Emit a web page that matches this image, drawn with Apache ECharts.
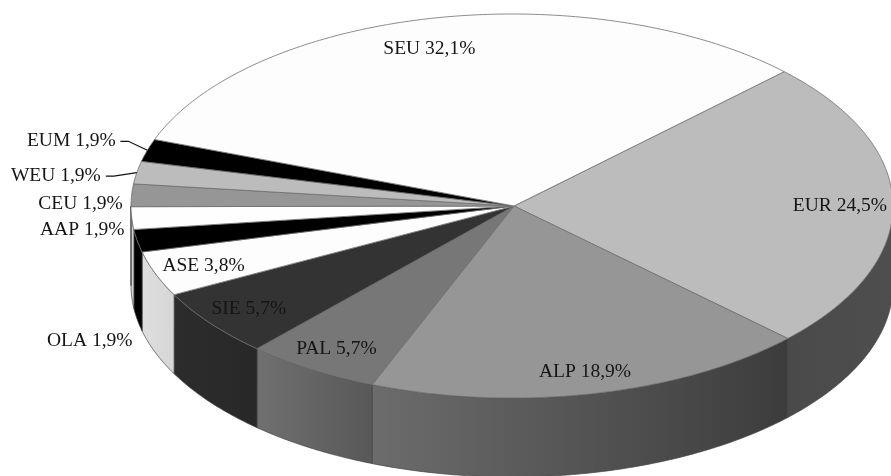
<!DOCTYPE html>
<html>
<head>
<meta charset="utf-8">
<style>
  html, body { margin: 0; padding: 0; background: #fff; }
  #chart { width: 891px; height: 476px; }
</style>
<script src="https://cdn.jsdelivr.net/npm/echarts@6/dist/echarts.min.js"></script>
</head>
<body>
<div id="chart"></div>
<script>
// Clockwise from the slice that starts at the upper right.
const categories = ['EUR', 'ALP', 'PAL', 'SIE', 'ASE', 'OLA', 'AAP', 'CEU', 'WEU', 'EUM', 'SEU'];
const shares = [24.5, 18.9, 5.7, 5.7, 3.8, 1.9, 1.9, 1.9, 1.9, 1.9, 32.1];

// Fill of each slice's top face.
const topColors = ['#bcbcbc', '#969696', '#777777', '#333333', '#fdfdfd', '#000000', '#fefefe', '#969696', '#bcbcbc', '#000000', '#fdfdfd'];
// Rim shading of each slice, left to right.
const rimColors = [
  ['#4a4a4a', '#4e4e4e'], ['#6c6c6c', '#3c3c3c'], ['#707070', '#585858'], ['#2c2c2c', '#282828'],
  ['#dedede', '#d6d6d6'], ['#000000', '#000000'], ['#d4d4d4', '#d4d4d4'], ['#808080', '#808080'],
  ['#a0a0a0', '#a0a0a0'], ['#000000', '#000000'], ['#eeeeee', '#eeeeee']
];
// Label centre relative to the point where the slice's middle meets the rim.
const labelOffsets = [[-53, 1.5], [-9, -22], [25, -20], [38, -15], [48, -8], [-47.5, 100], [-49.5, 12], [-51, 9], [-81, 3], [-76, -9], [-3, 31]];
// Leader lines: two bends relative to the same rim point.
const leaders = { WEU: [[-23, 3.5], [-31, 3.5]], EUM: [[-19, -9], [-27, -9]] };

// Tilted disc geometry; the slices meet slightly right of the ellipse centre.
const disc = { cx: 512, cy: 206, rx: 381, ry: 192, depth: 79, startDeg: 44.4, apexShift: 2 };
const total = shares.reduce((a, b) => a + b, 0);

const rimPoint = (deg, drop) => {
  const t = deg * Math.PI / 180;
  return [disc.cx + disc.rx * Math.cos(t), disc.cy - disc.ry * Math.sin(t) + (drop || 0)];
};
const arcPoints = (from, to, drop) => {
  const n = Math.max(2, Math.ceil(Math.abs(to - from) * 1.5));
  const pts = [];
  for (let i = 0; i <= n; i++) pts.push(rimPoint(from + (to - from) * i / n, drop));
  return pts;
};
const sliceAngles = index => {
  let sum = 0;
  for (let i = 0; i < index; i++) sum += shares[i];
  const from = disc.startDeg - sum / total * 360;
  return [from, from - shares[index] / total * 360];
};
const percentText = v => v.toFixed(1).replace('.', ',') + '%';

function renderSlice(params, api) {
  const i = params.dataIndex;
  const [from, to] = sliceAngles(i);
  const children = [];

  // Outer wall: only the part of the rim that faces the viewer (angles 0 to -180).
  const wallFrom = Math.min(from, 0);
  const wallTo = Math.max(to, -180);
  if (wallFrom > wallTo) {
    const upper = arcPoints(wallFrom, wallTo, 0);
    const lower = arcPoints(wallTo, wallFrom, disc.depth);
    children.push({
      type: 'polygon',
      z2: 1,
      shape: { points: upper.concat(lower) },
      style: {
        fill: new echarts.graphic.LinearGradient(0, 0, 1, 0, [
          { offset: 0, color: rimColors[i][0] },
          { offset: 1, color: rimColors[i][1] }
        ]),
        stroke: '#444',
        lineWidth: 0.7
      }
    });
  }

  // Top face.
  children.push({
    type: 'polygon',
    z2: 2,
    shape: { points: [[disc.cx + disc.apexShift, disc.cy]].concat(arcPoints(from, to, 0)) },
    style: { fill: topColors[i], stroke: '#6e6e6e', lineWidth: 0.8 }
  });

  // Caption and optional leader line.
  const mid = rimPoint((from + to) / 2, 0);
  const offset = labelOffsets[i];
  children.push({
    type: 'text',
    z2: 5,
    style: {
      x: mid[0] + offset[0],
      y: mid[1] + offset[1],
      text: api.value(0) + ' ' + percentText(api.value(1)),
      align: 'center',
      verticalAlign: 'middle',
      fontFamily: '"Liberation Serif", serif',
      fontSize: 19.5,
      fill: '#151515'
    }
  });
  const bends = leaders[categories[i]];
  if (bends) {
    children.push({
      type: 'polyline',
      z2: 5,
      shape: { points: [mid].concat(bends.map(b => [mid[0] + b[0], mid[1] + b[1]])) },
      style: { fill: 'none', stroke: '#111', lineWidth: 1.2 }
    });
  }
  return { type: 'group', children };
}

const chart = echarts.init(document.getElementById('chart'));
chart.setOption({
  backgroundColor: '#ffffff',
  animation: false,
  series: [{
    type: 'custom',
    coordinateSystem: 'none',
    silent: true,
    clip: false,
    renderItem: renderSlice,
    encode: { itemName: 0, value: 1 },
    data: categories.map((c, i) => [c, shares[i]])
  }]
});
</script>
</body>
</html>
